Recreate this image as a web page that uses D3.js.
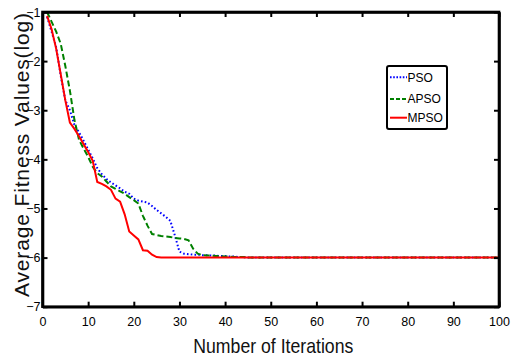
<!DOCTYPE html>
<html><head><meta charset="utf-8">
<script src="https://cdn.jsdelivr.net/npm/d3@7/dist/d3.min.js"></script>
<style>body{margin:0;background:#fff}svg{display:block}text{font-family:"Liberation Sans",Arial,sans-serif}</style>
</head><body>
<script>
const xTicks=[0,10,20,30,40,50,60,70,80,90,100];
const yTicks=[-7,-6,-5,-4,-3,-2,-1];
const seriesNames=["PSO","APSO","MPSO"];
const psoHead=[-1.1,-1.4,-1.72,-2.3,-2.8,-3.0,-3.3,-3.45,-3.62,-3.8,-3.98,-4.18,-4.3,-4.4,-4.47,-4.53,-4.59,-4.66,-4.7,-4.8,-4.84,-4.86,-4.88,-4.95,-5.03,-5.1,-5.17,-5.25,-5.55,-5.88,-5.92,-5.93,-5.94,-5.94,-5.95,-5.95,-5.96,-5.96,-5.97,-5.97,-5.98,-5.98,-5.99,-5.99];
const apsoHead=[-1.0,-1.2,-1.4,-1.65,-2.1,-2.6,-3.2,-3.6,-3.78,-3.95,-4.15,-4.28,-4.35,-4.45,-4.55,-4.6,-4.65,-4.7,-4.77,-4.83,-4.9,-5.15,-5.35,-5.52,-5.54,-5.56,-5.57,-5.58,-5.6,-5.61,-5.62,-5.65,-5.82,-5.92,-5.95,-5.96,-5.96,-5.97,-5.97,-5.98,-5.98,-5.99,-5.99,-5.99];
const mpsoHead=[-1.08,-1.35,-1.75,-2.27,-2.8,-3.25,-3.38,-3.53,-3.69,-3.85,-4.03,-4.46,-4.5,-4.55,-4.62,-4.8,-4.86,-5.12,-5.47,-5.55,-5.63,-5.85,-5.86,-5.94,-5.99];
const tailValue=-6.0;
function full(head){const a=head.slice();while(a.length<100)a.push(tailValue);return a;}
const pso=full(psoHead), apso=full(apsoHead), mpso=full(mpsoHead);

const W=516,H=360;
const svg=d3.select("body").append("svg").attr("width",W).attr("height",H);
const x=d3.scaleLinear().domain([0,100]).range([42.5,499]);
const y=d3.scaleLinear().domain([-7,-1]).range([306.7,12]);

const line=d3.line().x((d,i)=>x(i+1)).y(d=>y(d));
const styles=[
 {data:pso,color:"#0000ff",dash:"1.6,2.2"},
 {data:apso,color:"#008000",dash:"6,3"},
 {data:mpso,color:"#ff0000",dash:null}
];
const plot=svg.append("g");
plot.append("clipPath").attr("id","c").append("rect").attr("x",x(0)).attr("y",y(-1)).attr("width",x(100)-x(0)).attr("height",y(-7)-y(-1));
styles.forEach(s=>{
 plot.append("path").attr("d",line(s.data)).attr("fill","none").attr("stroke",s.color)
  .attr("stroke-width",2).attr("stroke-dasharray",s.dash).attr("clip-path","url(#c)");
});
const tl=5;
const ax=svg.append("g");
const axB=d3.axisBottom(x).tickValues(xTicks).tickSizeInner(-tl).tickSizeOuter(0).tickPadding(10);
const axT=d3.axisTop(x).tickValues(xTicks).tickSizeInner(-tl).tickSizeOuter(0).tickFormat("");
const axL=d3.axisLeft(y).tickValues(yTicks).tickSizeInner(-tl).tickSizeOuter(0).tickPadding(2).tickFormat(d3.format("d"));
const axR=d3.axisRight(y).tickValues(yTicks).tickSizeInner(-tl).tickSizeOuter(0).tickFormat("");
function style(g){g.selectAll("path.domain").attr("stroke","#000").attr("stroke-width",2.6);
 g.selectAll(".tick line").attr("stroke","#000").attr("stroke-width",2);
 g.selectAll(".tick text").attr("font-size",12.5).attr("fill","#000").style("font-family","'Liberation Sans',Arial,sans-serif");}
ax.append("g").attr("transform",`translate(0,${y(-7)})`).call(axB).call(style);
ax.append("g").attr("transform",`translate(0,${y(-1)})`).call(axT).call(style);
ax.append("g").attr("transform",`translate(${x(0)},0)`).call(axL).call(style);
ax.append("g").attr("transform",`translate(${x(100)},0)`).call(axR).call(style);
svg.append("rect").attr("x",x(0)).attr("y",y(-1)).attr("width",x(100)-x(0)).attr("height",y(-7)-y(-1)).attr("fill","none").attr("stroke","#000").attr("stroke-width",2.6);

svg.append("text").attr("x",273.3).attr("y",353).attr("text-anchor","middle").attr("font-size",21)
 .attr("textLength",160).attr("lengthAdjust","spacingAndGlyphs").attr("fill","#111").text("Number of Iterations");
svg.append("text").attr("transform","translate(28.5,155) rotate(-90)").attr("text-anchor","middle").attr("font-size",21)
 .attr("textLength",284).attr("lengthAdjust","spacing").attr("fill","#111").text("Average Fitness Values(log)");

const lg=svg.append("g");
lg.append("rect").attr("x",387).attr("y",66).attr("width",60).attr("height",63).attr("rx",2).attr("fill","#fff").attr("stroke","#000").attr("stroke-width",2);
const ly=[77.3,99,117.7];
styles.forEach((s,i)=>{
 lg.append("line").attr("x1",390).attr("x2",407).attr("y1",ly[i]).attr("y2",ly[i]).attr("stroke",s.color).attr("stroke-width",2).attr("stroke-dasharray",s.dash?(i==0?"1.6,1.6":"4,2"):null);
 lg.append("text").attr("x",407.5).attr("y",ly[i]+4.3).attr("font-size",12).attr("fill","#000").text(seriesNames[i]);
});
</script>
</body></html>
